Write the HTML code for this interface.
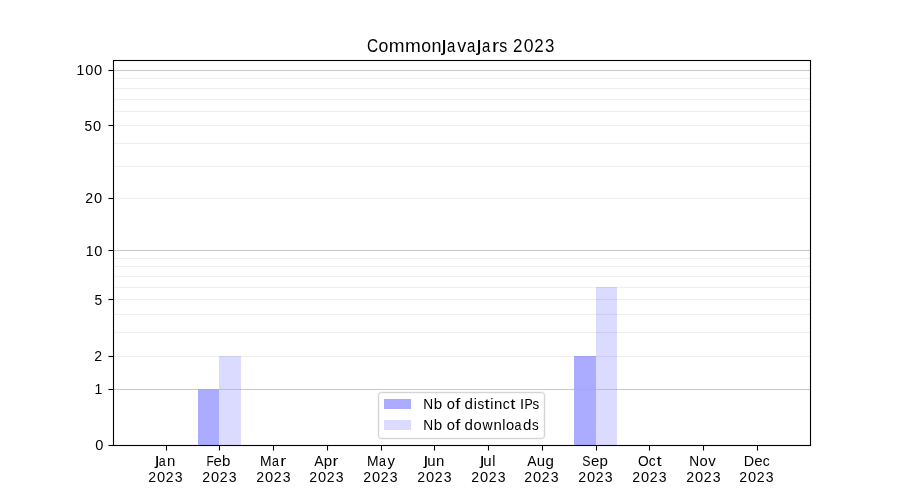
<!DOCTYPE html>
<html><head><meta charset="utf-8"><style>
html,body{margin:0;padding:0;background:#fff;width:900px;height:500px;overflow:hidden}
svg{display:block;will-change:transform}
.t{font-family:"Liberation Sans",sans-serif;font-size:13.889px;fill:#000}
.tt{font-family:"Liberation Sans",sans-serif;font-size:16.667px;fill:#000}
</style></head><body>
<svg width="900" height="500" viewBox="0 0 900 500">
<rect x="0" y="0" width="900" height="500" fill="#fff"/>
<rect x="113" y="355" width="697" height="1" fill="#fefefe"/>
<rect x="113" y="356" width="697" height="1" fill="#efefef"/>
<rect x="113" y="357" width="697" height="1" fill="#fefefe"/>
<rect x="113" y="331" width="697" height="1" fill="#fefefe"/>
<rect x="113" y="332" width="697" height="1" fill="#efefef"/>
<rect x="113" y="333" width="697" height="1" fill="#fefefe"/>
<rect x="113" y="313" width="697" height="1" fill="#fefefe"/>
<rect x="113" y="314" width="697" height="1" fill="#efefef"/>
<rect x="113" y="315" width="697" height="1" fill="#fefefe"/>
<rect x="113" y="298" width="697" height="1" fill="#fefefe"/>
<rect x="113" y="299" width="697" height="1" fill="#efefef"/>
<rect x="113" y="300" width="697" height="1" fill="#fefefe"/>
<rect x="113" y="286" width="697" height="1" fill="#fefefe"/>
<rect x="113" y="287" width="697" height="1" fill="#efefef"/>
<rect x="113" y="288" width="697" height="1" fill="#fefefe"/>
<rect x="113" y="275" width="697" height="1" fill="#fefefe"/>
<rect x="113" y="276" width="697" height="1" fill="#efefef"/>
<rect x="113" y="277" width="697" height="1" fill="#fefefe"/>
<rect x="113" y="265" width="697" height="1" fill="#fefefe"/>
<rect x="113" y="266" width="697" height="1" fill="#efefef"/>
<rect x="113" y="267" width="697" height="1" fill="#fefefe"/>
<rect x="113" y="257" width="697" height="1" fill="#fefefe"/>
<rect x="113" y="258" width="697" height="1" fill="#efefef"/>
<rect x="113" y="259" width="697" height="1" fill="#fefefe"/>
<rect x="113" y="197" width="697" height="1" fill="#fefefe"/>
<rect x="113" y="198" width="697" height="1" fill="#efefef"/>
<rect x="113" y="199" width="697" height="1" fill="#fefefe"/>
<rect x="113" y="165" width="697" height="1" fill="#fefefe"/>
<rect x="113" y="166" width="697" height="1" fill="#efefef"/>
<rect x="113" y="167" width="697" height="1" fill="#fefefe"/>
<rect x="113" y="142" width="697" height="1" fill="#fefefe"/>
<rect x="113" y="143" width="697" height="1" fill="#efefef"/>
<rect x="113" y="144" width="697" height="1" fill="#fefefe"/>
<rect x="113" y="124" width="697" height="1" fill="#fefefe"/>
<rect x="113" y="125" width="697" height="1" fill="#efefef"/>
<rect x="113" y="126" width="697" height="1" fill="#fefefe"/>
<rect x="113" y="110" width="697" height="1" fill="#fefefe"/>
<rect x="113" y="111" width="697" height="1" fill="#efefef"/>
<rect x="113" y="112" width="697" height="1" fill="#fefefe"/>
<rect x="113" y="98" width="697" height="1" fill="#fefefe"/>
<rect x="113" y="99" width="697" height="1" fill="#efefef"/>
<rect x="113" y="100" width="697" height="1" fill="#fefefe"/>
<rect x="113" y="87" width="697" height="1" fill="#fefefe"/>
<rect x="113" y="88" width="697" height="1" fill="#efefef"/>
<rect x="113" y="89" width="697" height="1" fill="#fefefe"/>
<rect x="113" y="77" width="697" height="1" fill="#fefefe"/>
<rect x="113" y="78" width="697" height="1" fill="#efefef"/>
<rect x="113" y="79" width="697" height="1" fill="#fefefe"/>
<rect x="198" y="389" width="21" height="56" fill="#0000ff" fill-opacity="0.33"/>
<rect x="219" y="356" width="22" height="89" fill="#0000ff" fill-opacity="0.14"/>
<rect x="574" y="356" width="22" height="89" fill="#0000ff" fill-opacity="0.33"/>
<rect x="596" y="287" width="21" height="158" fill="#0000ff" fill-opacity="0.14"/>
<rect x="113" y="388" width="697" height="3" fill="#b0b0b0" fill-opacity="0.035"/>
<rect x="113" y="389" width="697" height="1" fill="#b0b0b0" fill-opacity="0.65"/>
<rect x="113" y="249" width="697" height="3" fill="#b0b0b0" fill-opacity="0.035"/>
<rect x="113" y="250" width="697" height="1" fill="#b0b0b0" fill-opacity="0.65"/>
<rect x="113" y="69" width="697" height="3" fill="#b0b0b0" fill-opacity="0.035"/>
<rect x="113" y="70" width="697" height="1" fill="#b0b0b0" fill-opacity="0.65"/>
<rect x="112" y="59" width="700" height="1" fill="#000" fill-opacity="0.055"/>
<rect x="112" y="61" width="700" height="1" fill="#000" fill-opacity="0.055"/>
<rect x="112" y="444" width="700" height="1" fill="#000" fill-opacity="0.055"/>
<rect x="112" y="446" width="700" height="1" fill="#000" fill-opacity="0.055"/>
<rect x="112" y="61" width="1" height="384" fill="#000" fill-opacity="0.055"/>
<rect x="114" y="61" width="1" height="384" fill="#000" fill-opacity="0.055"/>
<rect x="809" y="61" width="1" height="384" fill="#000" fill-opacity="0.055"/>
<rect x="811" y="61" width="1" height="384" fill="#000" fill-opacity="0.055"/>
<rect x="113" y="60" width="698" height="1" fill="#000"/>
<rect x="113" y="445" width="698" height="1" fill="#000"/>
<rect x="113" y="60" width="1" height="386" fill="#000"/>
<rect x="810" y="60" width="1" height="386" fill="#000"/>
<rect x="109" y="445" width="4" height="1" fill="#000"/>
<rect x="108" y="445" width="1" height="1" fill="#000" fill-opacity="0.5"/>
<rect x="108" y="444" width="4" height="1" fill="#000" fill-opacity="0.055"/>
<rect x="108" y="446" width="4" height="1" fill="#000" fill-opacity="0.055"/>
<rect x="109" y="389" width="4" height="1" fill="#000"/>
<rect x="108" y="389" width="1" height="1" fill="#000" fill-opacity="0.5"/>
<rect x="108" y="388" width="4" height="1" fill="#000" fill-opacity="0.055"/>
<rect x="108" y="390" width="4" height="1" fill="#000" fill-opacity="0.055"/>
<rect x="109" y="356" width="4" height="1" fill="#000"/>
<rect x="108" y="356" width="1" height="1" fill="#000" fill-opacity="0.5"/>
<rect x="108" y="355" width="4" height="1" fill="#000" fill-opacity="0.055"/>
<rect x="108" y="357" width="4" height="1" fill="#000" fill-opacity="0.055"/>
<rect x="109" y="299" width="4" height="1" fill="#000"/>
<rect x="108" y="299" width="1" height="1" fill="#000" fill-opacity="0.5"/>
<rect x="108" y="298" width="4" height="1" fill="#000" fill-opacity="0.055"/>
<rect x="108" y="300" width="4" height="1" fill="#000" fill-opacity="0.055"/>
<rect x="109" y="250" width="4" height="1" fill="#000"/>
<rect x="108" y="250" width="1" height="1" fill="#000" fill-opacity="0.5"/>
<rect x="108" y="249" width="4" height="1" fill="#000" fill-opacity="0.055"/>
<rect x="108" y="251" width="4" height="1" fill="#000" fill-opacity="0.055"/>
<rect x="109" y="198" width="4" height="1" fill="#000"/>
<rect x="108" y="198" width="1" height="1" fill="#000" fill-opacity="0.5"/>
<rect x="108" y="197" width="4" height="1" fill="#000" fill-opacity="0.055"/>
<rect x="108" y="199" width="4" height="1" fill="#000" fill-opacity="0.055"/>
<rect x="109" y="125" width="4" height="1" fill="#000"/>
<rect x="108" y="125" width="1" height="1" fill="#000" fill-opacity="0.5"/>
<rect x="108" y="124" width="4" height="1" fill="#000" fill-opacity="0.055"/>
<rect x="108" y="126" width="4" height="1" fill="#000" fill-opacity="0.055"/>
<rect x="109" y="70" width="4" height="1" fill="#000"/>
<rect x="108" y="70" width="1" height="1" fill="#000" fill-opacity="0.5"/>
<rect x="108" y="69" width="4" height="1" fill="#000" fill-opacity="0.055"/>
<rect x="108" y="71" width="4" height="1" fill="#000" fill-opacity="0.055"/>
<rect x="166" y="446" width="1" height="4" fill="#000"/>
<rect x="166" y="450" width="1" height="1" fill="#000" fill-opacity="0.5"/>
<rect x="165" y="447" width="1" height="4" fill="#000" fill-opacity="0.055"/>
<rect x="167" y="447" width="1" height="4" fill="#000" fill-opacity="0.055"/>
<rect x="219" y="446" width="1" height="4" fill="#000"/>
<rect x="219" y="450" width="1" height="1" fill="#000" fill-opacity="0.5"/>
<rect x="218" y="447" width="1" height="4" fill="#000" fill-opacity="0.055"/>
<rect x="220" y="447" width="1" height="4" fill="#000" fill-opacity="0.055"/>
<rect x="273" y="446" width="1" height="4" fill="#000"/>
<rect x="273" y="450" width="1" height="1" fill="#000" fill-opacity="0.5"/>
<rect x="272" y="447" width="1" height="4" fill="#000" fill-opacity="0.055"/>
<rect x="274" y="447" width="1" height="4" fill="#000" fill-opacity="0.055"/>
<rect x="327" y="446" width="1" height="4" fill="#000"/>
<rect x="327" y="450" width="1" height="1" fill="#000" fill-opacity="0.5"/>
<rect x="326" y="447" width="1" height="4" fill="#000" fill-opacity="0.055"/>
<rect x="328" y="447" width="1" height="4" fill="#000" fill-opacity="0.055"/>
<rect x="381" y="446" width="1" height="4" fill="#000"/>
<rect x="381" y="450" width="1" height="1" fill="#000" fill-opacity="0.5"/>
<rect x="380" y="447" width="1" height="4" fill="#000" fill-opacity="0.055"/>
<rect x="382" y="447" width="1" height="4" fill="#000" fill-opacity="0.055"/>
<rect x="434" y="446" width="1" height="4" fill="#000"/>
<rect x="434" y="450" width="1" height="1" fill="#000" fill-opacity="0.5"/>
<rect x="433" y="447" width="1" height="4" fill="#000" fill-opacity="0.055"/>
<rect x="435" y="447" width="1" height="4" fill="#000" fill-opacity="0.055"/>
<rect x="488" y="446" width="1" height="4" fill="#000"/>
<rect x="488" y="450" width="1" height="1" fill="#000" fill-opacity="0.5"/>
<rect x="487" y="447" width="1" height="4" fill="#000" fill-opacity="0.055"/>
<rect x="489" y="447" width="1" height="4" fill="#000" fill-opacity="0.055"/>
<rect x="542" y="446" width="1" height="4" fill="#000"/>
<rect x="542" y="450" width="1" height="1" fill="#000" fill-opacity="0.5"/>
<rect x="541" y="447" width="1" height="4" fill="#000" fill-opacity="0.055"/>
<rect x="543" y="447" width="1" height="4" fill="#000" fill-opacity="0.055"/>
<rect x="596" y="446" width="1" height="4" fill="#000"/>
<rect x="596" y="450" width="1" height="1" fill="#000" fill-opacity="0.5"/>
<rect x="595" y="447" width="1" height="4" fill="#000" fill-opacity="0.055"/>
<rect x="597" y="447" width="1" height="4" fill="#000" fill-opacity="0.055"/>
<rect x="649" y="446" width="1" height="4" fill="#000"/>
<rect x="649" y="450" width="1" height="1" fill="#000" fill-opacity="0.5"/>
<rect x="648" y="447" width="1" height="4" fill="#000" fill-opacity="0.055"/>
<rect x="650" y="447" width="1" height="4" fill="#000" fill-opacity="0.055"/>
<rect x="703" y="446" width="1" height="4" fill="#000"/>
<rect x="703" y="450" width="1" height="1" fill="#000" fill-opacity="0.5"/>
<rect x="702" y="447" width="1" height="4" fill="#000" fill-opacity="0.055"/>
<rect x="704" y="447" width="1" height="4" fill="#000" fill-opacity="0.055"/>
<rect x="757" y="446" width="1" height="4" fill="#000"/>
<rect x="757" y="450" width="1" height="1" fill="#000" fill-opacity="0.5"/>
<rect x="756" y="447" width="1" height="4" fill="#000" fill-opacity="0.055"/>
<rect x="758" y="447" width="1" height="4" fill="#000" fill-opacity="0.055"/>
<rect x="378.5" y="392.5" width="166" height="46" rx="2.8" fill="#fff" fill-opacity="0.8" stroke="#000" stroke-opacity="0.031" stroke-width="3"/>
<rect x="378.5" y="392.5" width="166" height="46" rx="2.8" fill="none" stroke="#cccccc" stroke-opacity="0.8" stroke-width="1.0"/>
<rect x="384" y="399" width="27" height="10" fill="#0000ff" fill-opacity="0.33"/>
<rect x="384" y="420" width="27" height="10" fill="#0000ff" fill-opacity="0.14"/>
<g aria-label="CommonJavaJars 2023">
<text class="tt" transform="translate(366.98 52.18) scale(0.928 1.090)">C</text>
<text class="tt" transform="translate(378.62 52.16) scale(1.063 1.069)">o</text>
<text class="tt" transform="translate(388.87 52.09) scale(1.139 1.062)">m</text>
<text class="tt" transform="translate(405.06 52.09) scale(1.139 1.062)">m</text>
<text class="tt" transform="translate(421.18 52.16) scale(1.063 1.069)">o</text>
<text class="tt" transform="translate(431.50 52.09) scale(1.078 1.062)">n</text>
<text class="tt" transform="translate(441.41 51.10) scale(1.387 1.226)">ȷ</text>
<text class="tt" transform="translate(446.98 52.16) scale(0.899 1.069)">a</text>
<text class="tt" transform="translate(457.24 52.09) scale(1.079 1.056)">v</text>
<text class="tt" transform="translate(467.01 52.16) scale(0.899 1.069)">a</text>
<text class="tt" transform="translate(476.53 51.10) scale(1.387 1.226)">ȷ</text>
<text class="tt" transform="translate(482.10 52.16) scale(0.899 1.069)">a</text>
<text class="tt" transform="translate(492.01 52.09) scale(1.281 1.062)">r</text>
<text class="tt" transform="translate(499.21 52.16) scale(0.959 1.072)">s</text>
<text class="tt" transform="translate(513.07 52.12) scale(1.016 1.084)">2</text>
<text class="tt" transform="translate(523.69 52.18) scale(1.054 1.090)">0</text>
<text class="tt" transform="translate(534.22 52.12) scale(1.016 1.084)">2</text>
<text class="tt" transform="translate(545.06 52.18) scale(1.012 1.090)">3</text>
</g>
<g aria-label="0">
<text class="t" transform="translate(95.19 450.15) scale(1.054 1.090)">0</text>
</g>
<g aria-label="1">
<text class="t" transform="translate(94.38 394.10) scale(1.007 1.081)">1</text>
</g>
<g aria-label="2">
<text class="t" transform="translate(94.14 361.10) scale(1.016 1.084)">2</text>
</g>
<g aria-label="5">
<text class="t" transform="translate(94.39 305.15) scale(0.995 1.086)">5</text>
</g>
<g aria-label="10">
<text class="t" transform="translate(85.63 256.10) scale(1.007 1.081)">1</text>
<text class="t" transform="translate(94.34 256.15) scale(1.054 1.090)">0</text>
</g>
<g aria-label="20">
<text class="t" transform="translate(85.15 203.10) scale(1.016 1.084)">2</text>
<text class="t" transform="translate(94.02 203.15) scale(1.054 1.090)">0</text>
</g>
<g aria-label="50">
<text class="t" transform="translate(84.42 131.15) scale(0.995 1.086)">5</text>
<text class="t" transform="translate(93.08 131.15) scale(1.054 1.090)">0</text>
</g>
<g aria-label="100">
<text class="t" transform="translate(76.42 75.10) scale(1.007 1.081)">1</text>
<text class="t" transform="translate(85.13 75.15) scale(1.054 1.090)">0</text>
<text class="t" transform="translate(93.95 75.15) scale(1.054 1.090)">0</text>
</g>
<g aria-label="Jan">
<text class="t" transform="translate(155.10 465.26) scale(1.387 1.221)">ȷ</text>
<text class="t" transform="translate(158.64 466.13) scale(0.899 1.069)">a</text>
<text class="t" transform="translate(167.11 466.08) scale(1.078 1.062)">n</text>
</g>
<g aria-label="2023">
<text class="t" transform="translate(148.15 482.10) scale(1.016 1.084)">2</text>
<text class="t" transform="translate(157.02 482.15) scale(1.054 1.090)">0</text>
<text class="t" transform="translate(165.81 482.10) scale(1.016 1.084)">2</text>
<text class="t" transform="translate(174.85 482.15) scale(1.012 1.090)">3</text>
</g>
<g aria-label="Feb">
<text class="t" transform="translate(206.41 466.10) scale(0.857 1.081)">F</text>
<text class="t" transform="translate(213.38 466.13) scale(1.080 1.069)">e</text>
<text class="t" transform="translate(222.07 466.16) scale(1.088 1.075)">b</text>
</g>
<g aria-label="2023">
<text class="t" transform="translate(202.17 482.10) scale(1.016 1.084)">2</text>
<text class="t" transform="translate(211.03 482.15) scale(1.054 1.090)">0</text>
<text class="t" transform="translate(219.83 482.10) scale(1.016 1.084)">2</text>
<text class="t" transform="translate(228.87 482.15) scale(1.012 1.090)">3</text>
</g>
<g aria-label="Mar">
<text class="t" transform="translate(259.92 466.10) scale(0.997 1.081)">M</text>
<text class="t" transform="translate(271.96 466.13) scale(0.899 1.069)">a</text>
<text class="t" transform="translate(280.24 466.08) scale(1.281 1.062)">r</text>
</g>
<g aria-label="2023">
<text class="t" transform="translate(256.15 482.10) scale(1.016 1.084)">2</text>
<text class="t" transform="translate(265.02 482.15) scale(1.054 1.090)">0</text>
<text class="t" transform="translate(273.81 482.10) scale(1.016 1.084)">2</text>
<text class="t" transform="translate(282.85 482.15) scale(1.012 1.090)">3</text>
</g>
<g aria-label="Apr">
<text class="t" transform="translate(314.18 466.10) scale(1.007 1.081)">A</text>
<text class="t" transform="translate(323.87 465.97) scale(1.088 1.051)">p</text>
<text class="t" transform="translate(332.47 466.08) scale(1.281 1.062)">r</text>
</g>
<g aria-label="2023">
<text class="t" transform="translate(309.17 482.10) scale(1.016 1.084)">2</text>
<text class="t" transform="translate(318.04 482.15) scale(1.054 1.090)">0</text>
<text class="t" transform="translate(326.83 482.10) scale(1.016 1.084)">2</text>
<text class="t" transform="translate(335.87 482.15) scale(1.012 1.090)">3</text>
</g>
<g aria-label="May">
<text class="t" transform="translate(366.88 466.10) scale(0.997 1.081)">M</text>
<text class="t" transform="translate(378.92 466.13) scale(0.899 1.069)">a</text>
<text class="t" transform="translate(387.50 465.98) scale(1.074 1.046)">y</text>
</g>
<g aria-label="2023">
<text class="t" transform="translate(363.16 482.10) scale(1.016 1.084)">2</text>
<text class="t" transform="translate(372.02 482.15) scale(1.054 1.090)">0</text>
<text class="t" transform="translate(380.81 482.10) scale(1.016 1.084)">2</text>
<text class="t" transform="translate(389.85 482.15) scale(1.012 1.090)">3</text>
</g>
<g aria-label="Jun">
<text class="t" transform="translate(423.72 465.26) scale(1.387 1.221)">ȷ</text>
<text class="t" transform="translate(427.17 466.13) scale(1.078 1.088)">u</text>
<text class="t" transform="translate(436.02 466.08) scale(1.078 1.062)">n</text>
</g>
<g aria-label="2023">
<text class="t" transform="translate(417.16 482.10) scale(1.016 1.084)">2</text>
<text class="t" transform="translate(426.03 482.15) scale(1.054 1.090)">0</text>
<text class="t" transform="translate(434.82 482.10) scale(1.016 1.084)">2</text>
<text class="t" transform="translate(443.86 482.15) scale(1.012 1.090)">3</text>
</g>
<g aria-label="Jul">
<text class="t" transform="translate(479.91 465.26) scale(1.387 1.221)">ȷ</text>
<text class="t" transform="translate(483.36 466.13) scale(1.078 1.088)">u</text>
<text class="t" transform="translate(492.30 466.11) scale(1.022 1.069)">l</text>
</g>
<g aria-label="2023">
<text class="t" transform="translate(471.16 482.10) scale(1.016 1.084)">2</text>
<text class="t" transform="translate(480.02 482.15) scale(1.054 1.090)">0</text>
<text class="t" transform="translate(488.81 482.10) scale(1.016 1.084)">2</text>
<text class="t" transform="translate(497.85 482.15) scale(1.012 1.090)">3</text>
</g>
<g aria-label="Aug">
<text class="t" transform="translate(527.19 466.10) scale(1.007 1.081)">A</text>
<text class="t" transform="translate(536.80 466.13) scale(1.078 1.088)">u</text>
<text class="t" transform="translate(545.52 465.96) scale(1.087 1.053)">g</text>
</g>
<g aria-label="2023">
<text class="t" transform="translate(524.17 482.10) scale(1.016 1.084)">2</text>
<text class="t" transform="translate(533.03 482.15) scale(1.054 1.090)">0</text>
<text class="t" transform="translate(541.82 482.10) scale(1.016 1.084)">2</text>
<text class="t" transform="translate(550.86 482.15) scale(1.012 1.090)">3</text>
</g>
<g aria-label="Sep">
<text class="t" transform="translate(582.31 466.15) scale(0.891 1.090)">S</text>
<text class="t" transform="translate(590.89 466.13) scale(1.080 1.069)">e</text>
<text class="t" transform="translate(599.59 465.97) scale(1.088 1.051)">p</text>
</g>
<g aria-label="2023">
<text class="t" transform="translate(578.17 482.10) scale(1.016 1.084)">2</text>
<text class="t" transform="translate(587.03 482.15) scale(1.054 1.090)">0</text>
<text class="t" transform="translate(595.82 482.10) scale(1.016 1.084)">2</text>
<text class="t" transform="translate(604.86 482.15) scale(1.012 1.090)">3</text>
</g>
<g aria-label="Oct">
<text class="t" transform="translate(637.88 466.15) scale(0.989 1.090)">O</text>
<text class="t" transform="translate(648.85 466.13) scale(1.003 1.069)">c</text>
<text class="t" transform="translate(656.39 465.98) scale(1.337 1.095)">t</text>
</g>
<g aria-label="2023">
<text class="t" transform="translate(632.17 482.10) scale(1.016 1.084)">2</text>
<text class="t" transform="translate(641.03 482.15) scale(1.054 1.090)">0</text>
<text class="t" transform="translate(649.82 482.10) scale(1.016 1.084)">2</text>
<text class="t" transform="translate(658.86 482.15) scale(1.012 1.090)">3</text>
</g>
<g aria-label="Nov">
<text class="t" transform="translate(689.14 466.10) scale(0.988 1.081)">N</text>
<text class="t" transform="translate(699.43 466.13) scale(1.063 1.069)">o</text>
<text class="t" transform="translate(708.13 466.08) scale(1.079 1.056)">v</text>
</g>
<g aria-label="2023">
<text class="t" transform="translate(686.17 482.10) scale(1.016 1.084)">2</text>
<text class="t" transform="translate(695.03 482.15) scale(1.054 1.090)">0</text>
<text class="t" transform="translate(703.82 482.10) scale(1.016 1.084)">2</text>
<text class="t" transform="translate(712.87 482.15) scale(1.012 1.090)">3</text>
</g>
<g aria-label="Dec">
<text class="t" transform="translate(743.64 466.10) scale(1.035 1.081)">D</text>
<text class="t" transform="translate(754.27 466.13) scale(1.080 1.069)">e</text>
<text class="t" transform="translate(762.85 466.13) scale(1.003 1.069)">c</text>
</g>
<g aria-label="2023">
<text class="t" transform="translate(739.15 482.10) scale(1.016 1.084)">2</text>
<text class="t" transform="translate(748.02 482.15) scale(1.054 1.090)">0</text>
<text class="t" transform="translate(756.81 482.10) scale(1.016 1.084)">2</text>
<text class="t" transform="translate(765.85 482.15) scale(1.012 1.090)">3</text>
</g>
<g aria-label="Nb of distinct IPs">
<text class="t" transform="translate(423.34 409.10) scale(0.988 1.081)">N</text>
<text class="t" transform="translate(433.77 409.16) scale(1.088 1.075)">b</text>
<text class="t" transform="translate(446.84 409.13) scale(1.063 1.069)">o</text>
<text class="t" transform="translate(455.25 409.11) scale(1.313 1.071)">f</text>
<text class="t" transform="translate(464.61 409.16) scale(1.087 1.075)">d</text>
<text class="t" transform="translate(473.65 409.11) scale(1.022 1.069)">i</text>
<text class="t" transform="translate(477.53 409.13) scale(0.959 1.072)">s</text>
<text class="t" transform="translate(484.47 408.98) scale(1.337 1.095)">t</text>
<text class="t" transform="translate(490.17 409.11) scale(1.022 1.069)">i</text>
<text class="t" transform="translate(493.94 409.08) scale(1.078 1.062)">n</text>
<text class="t" transform="translate(502.64 409.13) scale(1.003 1.069)">c</text>
<text class="t" transform="translate(510.18 408.98) scale(1.337 1.095)">t</text>
<text class="t" transform="translate(519.95 409.10) scale(1.058 1.081)">I</text>
<text class="t" transform="translate(524.39 409.10) scale(0.884 1.081)">P</text>
<text class="t" transform="translate(532.53 409.13) scale(0.959 1.072)">s</text>
</g>
<g aria-label="Nb of downloads">
<text class="t" transform="translate(423.34 430.10) scale(0.988 1.081)">N</text>
<text class="t" transform="translate(433.77 430.16) scale(1.088 1.075)">b</text>
<text class="t" transform="translate(446.84 430.13) scale(1.063 1.069)">o</text>
<text class="t" transform="translate(455.25 430.11) scale(1.313 1.071)">f</text>
<text class="t" transform="translate(464.61 430.16) scale(1.087 1.075)">d</text>
<text class="t" transform="translate(473.44 430.13) scale(1.063 1.069)">o</text>
<text class="t" transform="translate(482.38 430.08) scale(1.011 1.056)">w</text>
<text class="t" transform="translate(493.39 430.08) scale(1.078 1.062)">n</text>
<text class="t" transform="translate(502.27 430.11) scale(1.022 1.069)">l</text>
<text class="t" transform="translate(505.92 430.13) scale(1.063 1.069)">o</text>
<text class="t" transform="translate(514.57 430.13) scale(0.899 1.069)">a</text>
<text class="t" transform="translate(522.90 430.16) scale(1.087 1.075)">d</text>
<text class="t" transform="translate(531.96 430.13) scale(0.959 1.072)">s</text>
</g>
</svg></body></html>
